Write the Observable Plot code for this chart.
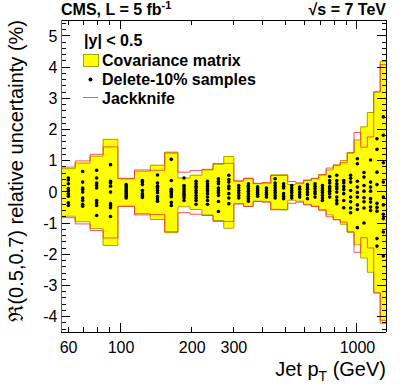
<!DOCTYPE html>
<html><head><meta charset="utf-8">
<script src="https://cdn.jsdelivr.net/npm/d3@7"></script>
<script src="https://cdn.jsdelivr.net/npm/@observablehq/plot@0.6"></script>
<style>
html,body{margin:0;padding:0;background:#fff;}
svg{display:block;}
</style>
</head><body><div id="chart"></div>
<script>
// Jet pT bin edges (GeV)
const edges = [56, 64, 74, 84, 97, 114, 133, 153, 174, 196, 220, 245, 272, 300, 330, 362, 395, 430, 468, 507, 548, 592, 638, 686, 737, 790, 846, 905, 967, 1032, 1101, 1172, 1248, 1327];
// Covariance-matrix relative uncertainty (%), half width per bin
const covErr = [0.76, 0.94, 1.16, 1.70, 0.44, 0.68, 0.87, 1.29, 0.46, 0.55, 0.72, 0.90, 1.15, 0.36, 0.45, 0.28, 0.30, 0.56, 0.56, 0.25, 0.28, 0.38, 0.44, 0.56, 0.72, 0.87, 1.02, 1.28, 1.68, 2.10, 2.56, 3.22, 4.20];
// Jackknife relative uncertainty (%), half width per bin
const jackErr = [0.81, 1.01, 1.22, 1.46, 0.45, 0.72, 0.71, 1.26, 0.65, 0.70, 0.74, 0.93, 0.93, 0.37, 0.45, 0.29, 0.31, 0.54, 0.55, 0.35, 0.31, 0.40, 0.45, 0.57, 0.78, 0.88, 0.95, 1.26, 1.92, 1.45, 1.78, 3.22, 4.10];
// Delete-10% samples (%), per bin
const samples = [
  [0.46, 0.40, 0.28, 0.12, 0.05, -0.04, -0.12, -0.33, -0.42],
  [0.67, 0.33, 0.14, 0.09, 0.01, -0.18, -0.26, -0.38, -0.44],
  [0.71, 0.46, 0.30, 0.22, 0.14, -0.26, -0.34, -0.42, -0.74],
  [0.89, 0.36, 0.30, 0.20, 0.01, -0.36, -0.42, -0.49, -0.77],
  [0.25, 0.20, 0.14, 0.08, 0.03, -0.03, -0.08, -0.13, -0.18],
  [0.38, 0.33, 0.25, 0.06, -0.04, -0.10, -0.16],
  [0.56, 0.30, 0.20, 0.14, 0.06, -0.01, -0.13, -0.20, -0.28],
  [1.06, 0.38, 0.10, 0.04, -0.02, -0.08, -0.14, -0.32, -0.42],
  [0.46, 0.22, 0.17, 0.10, 0.03, -0.04, -0.10, -0.17, -0.26],
  [0.36, 0.28, 0.20, 0.14, 0.06, -0.01, -0.10, -0.18, -0.26, -0.38],
  [0.36, 0.28, 0.20, 0.12, 0.05, -0.04, -0.15, -0.26, -0.38],
  [0.44, 0.35, 0.28, 0.14, 0.06, -0.01, -0.10, -0.29, -0.61],
  [0.55, 0.41, 0.33, 0.20, 0.12, -0.04, -0.18, -0.36],
  [0.22, 0.14, 0.06, -0.01, -0.10, -0.18],
  [0.28, 0.20, 0.12, 0.04, -0.04, -0.12, -0.20, -0.28],
  [0.18, 0.12, 0.06, 0.00, -0.06, -0.12],
  [0.14, 0.06, -0.01, -0.07, -0.15],
  [0.44, 0.30, 0.22, 0.14, 0.06, -0.01, -0.10, -0.18],
  [0.28, 0.20, 0.14, -0.04, -0.12, -0.20],
  [0.22, 0.14, 0.06, -0.01, -0.10, -0.18],
  [0.17, 0.10, 0.01, -0.07, -0.15],
  [0.25, 0.17, 0.10, 0.01, -0.07, -0.20],
  [0.28, 0.20, 0.12, 0.03, -0.04, -0.15],
  [0.22, 0.14, 0.06, -0.01, -0.10, -0.18, -0.26],
  [0.51, 0.38, 0.30, 0.19, 0.12, 0.04, -0.04, -0.15],
  [0.55, 0.38, 0.28, 0.19, 0.12, 0.01, -0.15, -0.26, -0.36],
  [0.38, 0.30, 0.19, 0.09, -0.04, -0.26, -0.49],
  [0.55, 0.45, 0.33, 0.06, -0.15, -0.30, -0.50, -0.65],
  [1.08, 0.92, 0.36, 0.17, 0.00, -0.15, -0.40, -0.55, -1.13],
  [0.64, 0.49, 0.22, 0.04, -0.17, -0.30, -0.50, -0.98],
  [1.04, 0.33, 0.17, 0.04, -0.20, -0.31, -0.47, -0.58],
  [1.72, 1.38, 0.65, 0.25, -0.35, -0.48, -0.60, -1.48, -1.72],
  [2.42, 1.83, 0.95, 0.33, -0.15, -0.40, -0.70, -0.84, -1.27, -2.04]
];
const xTickLabels = [60, 100, 200, 300, 1000];
const xMajorTicks = [100, 1000];
const xMinorTicks = [60, 70, 80, 90, 200, 300, 400, 500, 600, 700, 800, 900];
const yTickLabels = [-4, -3, -2, -1, 0, 1, 2, 3, 4, 5];
const yDomain = [-4.49, 5.51];

const W = 407, H = 391, ML = 61, MR = 21, MT = 20, MB = 59;
const font = "'Liberation Sans', Arial, Helvetica, sans-serif";
const yellow = "#ffff00", olive = "#a6a600", red = "#ff2a2a";

const nb = covErr.length;
const stepPts = edges.map((e, i) => ({x: e, cov: covErr[Math.min(i, nb - 1)], jack: jackErr[Math.min(i, nb - 1)]}));
const dots = samples.flatMap((vals, i) => vals.map(v => ({x: Math.sqrt(edges[i] * edges[i + 1]), y: v})));

const plot = Plot.plot({
  width: W, height: H,
  marginLeft: ML, marginRight: MR, marginTop: MT, marginBottom: MB,
  x: {type: "log", domain: [edges[0], edges[edges.length - 1]]},
  y: {domain: yDomain},
  style: {fontFamily: font, fontSize: "16px", background: "#fff", color: "#000"},
  marks: [
    Plot.areaY(stepPts, {x: "x", y1: d => -d.cov, y2: d => d.cov, curve: "step-after", fill: yellow}),
    Plot.lineY(stepPts, {x: "x", y: d => d.cov, curve: "step-after", stroke: olive, strokeWidth: 1}),
    Plot.lineY(stepPts, {x: "x", y: d => -d.cov, curve: "step-after", stroke: olive, strokeWidth: 1}),
    Plot.lineY(stepPts, {x: "x", y: d => d.jack, curve: "step-after", stroke: red, strokeWidth: 1, strokeOpacity: 0.8}),
    Plot.lineY(stepPts, {x: "x", y: d => -d.jack, curve: "step-after", stroke: red, strokeWidth: 1, strokeOpacity: 0.8}),
    Plot.dot(dots, {x: "x", y: "y", r: 1.8, fill: "#000", stroke: null}),
    Plot.axisX({ticks: xTickLabels, tickSize: 0, tickPadding: 9, tickFormat: d => String(d), label: null, fontSize: 16}),
    Plot.axisY({ticks: yTickLabels, tickSize: 0, tickPadding: 4, tickFormat: d => String(d), label: null, fontSize: 16})
  ]
});

document.getElementById("chart").appendChild(plot);

const sx = plot.scale("x"), sy = plot.scale("y");
const svg = d3.select(plot);
const x0 = sx.apply(edges[0]), x1 = sx.apply(edges[edges.length - 1]);
const yb = sy.apply(yDomain[0]), yt = sy.apply(yDomain[1]);

// ticks (inward, both sides)
const tg = svg.append("g").attr("stroke", "#000").attr("stroke-width", 1).attr("shape-rendering", "crispEdges");
const yMinor = d3.range(-44, 55, 2).map(v => v / 10).filter(v => Math.abs(v - Math.round(v)) > 1e-6);
yTickLabels.forEach(v => {
  const y = sy.apply(v);
  tg.append("line").attr("x1", x0).attr("x2", x0 + 9).attr("y1", y).attr("y2", y);
  tg.append("line").attr("x1", x1).attr("x2", x1 - 9).attr("y1", y).attr("y2", y);
});
yMinor.forEach(v => {
  const y = sy.apply(v);
  tg.append("line").attr("x1", x0).attr("x2", x0 + 4.5).attr("y1", y).attr("y2", y);
  tg.append("line").attr("x1", x1).attr("x2", x1 - 4.5).attr("y1", y).attr("y2", y);
});
xMajorTicks.forEach(v => {
  const x = sx.apply(v);
  tg.append("line").attr("x1", x).attr("x2", x).attr("y1", yb).attr("y2", yb - 9);
  tg.append("line").attr("x1", x).attr("x2", x).attr("y1", yt).attr("y2", yt + 9);
});
xMinorTicks.forEach(v => {
  const x = sx.apply(v);
  tg.append("line").attr("x1", x).attr("x2", x).attr("y1", yb).attr("y2", yb - 5);
  tg.append("line").attr("x1", x).attr("x2", x).attr("y1", yt).attr("y2", yt + 5);
});
// frame
tg.append("line").attr("x1", x0).attr("x2", x1).attr("y1", yb).attr("y2", yb);
tg.append("line").attr("x1", x0).attr("x2", x1).attr("y1", yt).attr("y2", yt);
tg.append("line").attr("x1", x1).attr("x2", x1).attr("y1", yt).attr("y2", yb);
tg.append("line").attr("x1", x0).attr("x2", x0).attr("y1", yt).attr("y2", yb).attr("stroke", "#a04a44");

// texts
const tx = svg.append("g").attr("font-family", font).attr("fill", "#000").attr("text-anchor", "start");
const t1 = tx.append("text").attr("x", 61).attr("y", 15).attr("font-size", 16).attr("font-weight", "bold");
t1.append("tspan").text("CMS, L = 5 fb");
t1.append("tspan").attr("dy", -6).attr("font-size", 11).text("-1");
tx.append("text").attr("x", 386).attr("y", 15).attr("text-anchor", "end").attr("font-size", 16).attr("font-weight", "bold").text("\u221As = 7 TeV");

// legend
tx.append("text").attr("x", 84).attr("y", 46).attr("font-size", 16).attr("font-weight", "bold").text("|y| < 0.5");
tx.append("rect").attr("x", 83.5).attr("y", 54.5).attr("width", 15).attr("height", 12).attr("fill", yellow).attr("stroke", olive);
tx.append("text").attr("x", 102).attr("y", 65.5).attr("font-size", 16).attr("font-weight", "bold").text("Covariance matrix");
tx.append("circle").attr("cx", 90.5).attr("cy", 79.5).attr("r", 2).attr("fill", "#000");
tx.append("text").attr("x", 102).attr("y", 84.5).attr("font-size", 16).attr("font-weight", "bold").text("Delete-10% samples");
tx.append("line").attr("x1", 83).attr("x2", 98).attr("y1", 97.5).attr("y2", 97.5).attr("stroke", red).attr("stroke-opacity", 0.8);
tx.append("text").attr("x", 102).attr("y", 103.5).attr("font-size", 16).attr("font-weight", "bold").text("Jackknife");

// axis titles
const xt = tx.append("text").attr("x", 386).attr("y", 376).attr("text-anchor", "end").attr("font-size", 20);
xt.append("tspan").text("Jet p");
xt.append("tspan").attr("font-size", 14).attr("dy", 5).text("T");
xt.append("tspan").attr("dy", -5).text(" (GeV)");
tx.append("text").attr("transform", "translate(23,20) rotate(-90)").attr("text-anchor", "end").attr("font-size", 20)
  .text("\u211C(0.5,0.7) relative uncertainty (%)");
</script>
</body></html>
